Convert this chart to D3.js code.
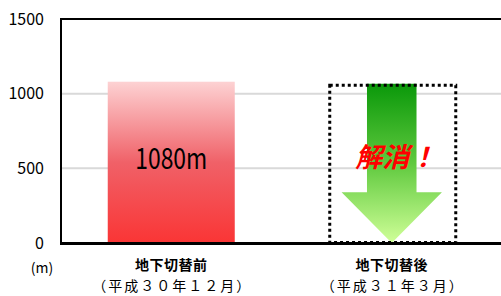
<!DOCTYPE html>
<html>
<head>
<meta charset="utf-8">
<script src="https://cdn.jsdelivr.net/npm/d3@7"></script>
<style>
  html, body { margin: 0; padding: 0; background: #fff; }
  svg { display: block; }
</style>
</head>
<body>
<svg id="chart"></svg>
<script>
// chart values
const categories = ["地下切替前", "地下切替後"];
const subLabels = ["（平成３０年１２月）", "（平成３１年３月）"];
const values = [1080, 0];
const yTicks = [0, 500, 1000, 1500];
const barLabel = "1080m";
const resolvedLabel = "解消！";
const unitLabel = "(m)";

const width = 501, height = 296;
const margin = {top: 19, right: -1, bottom: 53, left: 61};

const svg = d3.select("#chart")
    .attr("width", width)
    .attr("height", height);

const x = d3.scaleBand()
    .domain(categories)
    .range([margin.left, width - margin.right])
    .paddingInner(0.424)
    .paddingOuter(0.212);

const y = d3.scaleLinear()
    .domain([0, 1500])
    .range([height - margin.bottom, margin.top]);

const defs = svg.append("defs");

const redGrad = defs.append("linearGradient")
    .attr("id", "redGrad")
    .attr("x1", 0).attr("y1", 0).attr("x2", 0).attr("y2", 1);
redGrad.append("stop").attr("offset", "0%").attr("stop-color", "#fdd2d3");
redGrad.append("stop").attr("offset", "50%").attr("stop-color", "#f06168");
redGrad.append("stop").attr("offset", "100%").attr("stop-color", "#fa3535");

const greenGrad = defs.append("linearGradient")
    .attr("id", "greenGrad")
    .attr("x1", 0).attr("y1", 0).attr("x2", 0).attr("y2", 1);
greenGrad.append("stop").attr("offset", "0%").attr("stop-color", "#0a980a");
greenGrad.append("stop").attr("offset", "50%").attr("stop-color", "#5fc93e");
greenGrad.append("stop").attr("offset", "100%").attr("stop-color", "#d0ff98");

// grid lines
svg.append("g")
    .selectAll("line")
    .data(yTicks.filter(d => d > 0 && d < 1500))
    .join("line")
    .attr("x1", margin.left)
    .attr("x2", width)
    .attr("y1", d => y(d))
    .attr("y2", d => y(d))
    .attr("stroke", "#d9d9d9")
    .attr("stroke-width", 2);

// y tick labels
svg.append("g")
    .selectAll("text")
    .data(yTicks)
    .join("text")
    .attr("x", 44)
    .attr("y", d => y(d))
    .attr("dy", "0.36em")
    .attr("text-anchor", "end")
    .style("font-family", "'Noto Sans CJK JP', sans-serif")
    .style("font-size", "16px")
    .attr("fill", "#000")
    .text(d => d);

svg.append("text")
    .attr("x", 42)
    .attr("y", 273)
    .attr("text-anchor", "middle")
    .style("font-family", "'Noto Sans CJK JP', sans-serif")
    .style("font-size", "14px")
    .text(unitLabel);

// bar (before)
const bw = x.bandwidth();
svg.append("rect")
    .attr("x", x(categories[0]))
    .attr("y", y(values[0]))
    .attr("width", bw)
    .attr("height", y(0) - y(values[0]))
    .attr("fill", "url(#redGrad)");

svg.append("text")
    .attr("x", x(categories[0]) + bw / 2)
    .attr("y", 169)
    .attr("text-anchor", "middle")
    .attr("textLength", 72)
    .attr("lengthAdjust", "spacingAndGlyphs")
    .style("font-family", "'Noto Sans CJK JP', sans-serif")
    .style("font-size", "29px")
    .text(barLabel);

// arrow (after)
const bx = x(categories[1]);
const cx = bx + bw / 2;
const boxTop = y(values[0]) + 2;
const boxBottom = y(values[1]);
const shaftW = bw * 0.39;
const headW = bw * 0.79;
const headStart = y(340);
const arrowPts = [
    [cx - shaftW / 2, boxTop],
    [cx + shaftW / 2, boxTop],
    [cx + shaftW / 2, headStart],
    [cx + headW / 2, headStart],
    [cx, boxBottom],
    [cx - headW / 2, headStart],
    [cx - shaftW / 2, headStart]
];
svg.append("polygon")
    .attr("points", arrowPts.map(p => p.join(",")).join(" "))
    .attr("fill", "url(#greenGrad)");

svg.append("rect")
    .attr("x", bx + 1.5)
    .attr("y", boxTop + 1.5)
    .attr("width", bw - 1)
    .attr("height", boxBottom - boxTop - 2)
    .attr("fill", "none")
    .attr("stroke", "#000")
    .attr("stroke-width", 3)
    .attr("stroke-dasharray", "3,3");

svg.append("text")
    .attr("x", cx + 4)
    .attr("y", 167)
    .attr("text-anchor", "middle")
    .style("font-family", "'Noto Sans CJK JP', sans-serif")
    .style("font-size", "27px")
    .style("font-style", "italic")
    .style("font-weight", "bold")
    .attr("fill", "#ff0000")
    .text(resolvedLabel);

// axis frame
svg.append("line")
    .attr("x1", margin.left).attr("x2", width)
    .attr("y1", y(1500)).attr("y2", y(1500))
    .attr("stroke", "#000").attr("stroke-width", 2);
svg.append("line")
    .attr("x1", margin.left).attr("x2", margin.left)
    .attr("y1", y(1500) - 1).attr("y2", y(0))
    .attr("stroke", "#000").attr("stroke-width", 2);
svg.append("line")
    .attr("x1", margin.left - 1).attr("x2", width)
    .attr("y1", y(0) + 0.5).attr("y2", y(0) + 0.5)
    .attr("stroke", "#000").attr("stroke-width", 3);

// category labels
const labels = svg.append("g")
    .selectAll("g")
    .data(categories)
    .join("g")
    .attr("transform", d => `translate(${x(d) + bw / 2},0)`);
labels.append("text")
    .attr("y", 270)
    .attr("text-anchor", "middle")
    .style("font-family", "'Noto Sans CJK JP', sans-serif")
    .style("font-size", "14px")
    .style("font-weight", "bold")
    .style("letter-spacing", "0.5px")
    .text(d => d);
labels.append("text")
    .attr("x", 1)
    .attr("y", 291)
    .attr("text-anchor", "middle")
    .style("font-family", "'Noto Sans CJK JP', sans-serif")
    .style("font-size", "14px")
    .style("letter-spacing", "2px")
    .text((d, i) => subLabels[i]);
</script>
</body>
</html>
